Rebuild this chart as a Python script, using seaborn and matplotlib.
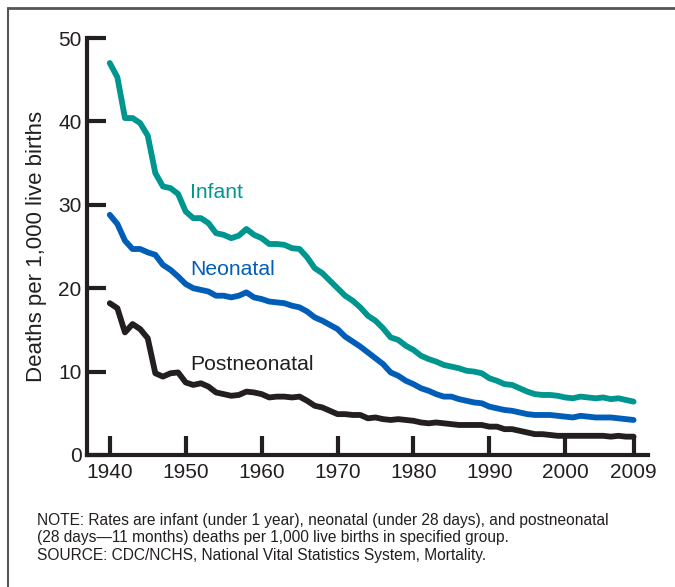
import numpy as np
import pandas as pd
import matplotlib
matplotlib.use("Agg")
import matplotlib.pyplot as plt
from matplotlib.lines import Line2D
import seaborn as sns

# annual rates, deaths per 1,000 live births
years = list(range(1940, 2010))
infant = [47.0, 45.3, 40.4, 40.4, 39.8, 38.3, 33.8, 32.2, 32.0, 31.3,
          29.2, 28.4, 28.4, 27.8, 26.6, 26.4, 26.0, 26.3, 27.1, 26.4,
          26.0, 25.3, 25.3, 25.2, 24.8, 24.7, 23.7, 22.4, 21.8, 20.9,
          20.0, 19.1, 18.5, 17.7, 16.7, 16.1, 15.2, 14.1, 13.8, 13.1,
          12.6, 11.9, 11.5, 11.2, 10.8, 10.6, 10.4, 10.1, 10.0, 9.8,
          9.2, 8.9, 8.5, 8.4, 8.0, 7.6, 7.3, 7.2, 7.2, 7.1,
          6.9, 6.8, 7.0, 6.9, 6.8, 6.9, 6.7, 6.8, 6.6, 6.4]
neonatal = [28.8, 27.7, 25.7, 24.7, 24.7, 24.3, 24.0, 22.8, 22.2, 21.4,
            20.5, 20.0, 19.8, 19.6, 19.1, 19.1, 18.9, 19.1, 19.5, 18.9,
            18.7, 18.4, 18.3, 18.2, 17.9, 17.7, 17.2, 16.5, 16.1, 15.6,
            15.1, 14.2, 13.6, 13.0, 12.3, 11.6, 10.9, 9.9, 9.5, 8.9,
            8.5, 8.0, 7.7, 7.3, 7.0, 7.0, 6.7, 6.5, 6.3, 6.2,
            5.8, 5.6, 5.4, 5.3, 5.1, 4.9, 4.8, 4.8, 4.8, 4.7,
            4.6, 4.5, 4.7, 4.6, 4.5, 4.5, 4.5, 4.4, 4.3, 4.2]
postneonatal = [18.2, 17.6, 14.7, 15.7, 15.1, 14.0, 9.8, 9.4, 9.8, 9.9,
                8.7, 8.4, 8.6, 8.2, 7.5, 7.3, 7.1, 7.2, 7.6, 7.5,
                7.3, 6.9, 7.0, 7.0, 6.9, 7.0, 6.5, 5.9, 5.7, 5.3,
                4.9, 4.9, 4.8, 4.8, 4.4, 4.5, 4.3, 4.2, 4.3, 4.2,
                4.1, 3.9, 3.8, 3.9, 3.8, 3.7, 3.6, 3.6, 3.6, 3.6,
                3.4, 3.4, 3.1, 3.1, 2.9, 2.7, 2.5, 2.5, 2.4, 2.3,
                2.3, 2.3, 2.3, 2.3, 2.3, 2.3, 2.2, 2.3, 2.2, 2.2]

series_names = ["Infant", "Neonatal", "Postneonatal"]
colors = {"Infant": "#00968f", "Neonatal": "#005eb8", "Postneonatal": "#231f20"}
label_pos = {"Infant": (1950.6, 31.5), "Neonatal": (1950.6, 22.2), "Postneonatal": (1950.6, 10.9)}
xticks = [1940, 1950, 1960, 1970, 1980, 1990, 2000, 2009]
yticks = [0, 10, 20, 30, 40, 50]

df = pd.DataFrame({
    "year": years * 3,
    "rate": infant + neonatal + postneonatal,
    "group": [n for n in series_names for _ in years],
})

sns.set_style("white")
plt.rcParams["font.family"] = ["Liberation Sans", "DejaVu Sans"]
ink = "#231f20"

fig = plt.figure(figsize=(6.75, 5.87), dpi=100)
ax = fig.add_axes([87/675, 1-455/587, (648-87)/675, (455-38)/587])

sns.lineplot(data=df, x="year", y="rate", hue="group", palette=colors,
             linewidth=4.2, legend=False, ax=ax)

for name in series_names:
    x, y = label_pos[name]
    ax.text(x, y, name, color=colors[name], fontsize=15.2, ha="left", va="center")

ax.set_xlim(1937.0, 2010.9)
ax.set_ylim(0, 50)
ax.set_xticks(xticks)
ax.set_yticks(yticks)
ax.set_xlabel("")
ax.set_ylabel("Deaths per 1,000 live births", fontsize=16, color=ink, labelpad=8)
ax.tick_params(bottom=True, left=True, direction="in", length=14, width=3,
               color=ink, labelsize=15, labelcolor=ink)
ax.tick_params(axis="y", pad=4)
ax.tick_params(axis="x", pad=6)
for s in ["top", "right"]:
    ax.spines[s].set_visible(False)
for s in ["left", "bottom"]:
    ax.spines[s].set_linewidth(3)
    ax.spines[s].set_color(ink)

# frame lines of the figure panel
fig.add_artist(Line2D([8/675, 1], [1-8/587, 1-8/587], color="#555555", linewidth=2))
fig.add_artist(Line2D([8/675, 8/675], [0, 1-8/587], color="#555555", linewidth=1.5))

note = ("NOTE: Rates are infant (under 1 year), neonatal (under 28 days), and postneonatal\n"
        "(28 days\u201411 months) deaths per 1,000 live births in specified group.\n"
        "SOURCE: CDC/NCHS, National Vital Statistics System, Mortality.")
fig.text(37/675, 1-513/587, note, fontsize=11.2, color=ink, ha="left", va="top", linespacing=1.2)

fig.savefig("out.png", dpi=100)
